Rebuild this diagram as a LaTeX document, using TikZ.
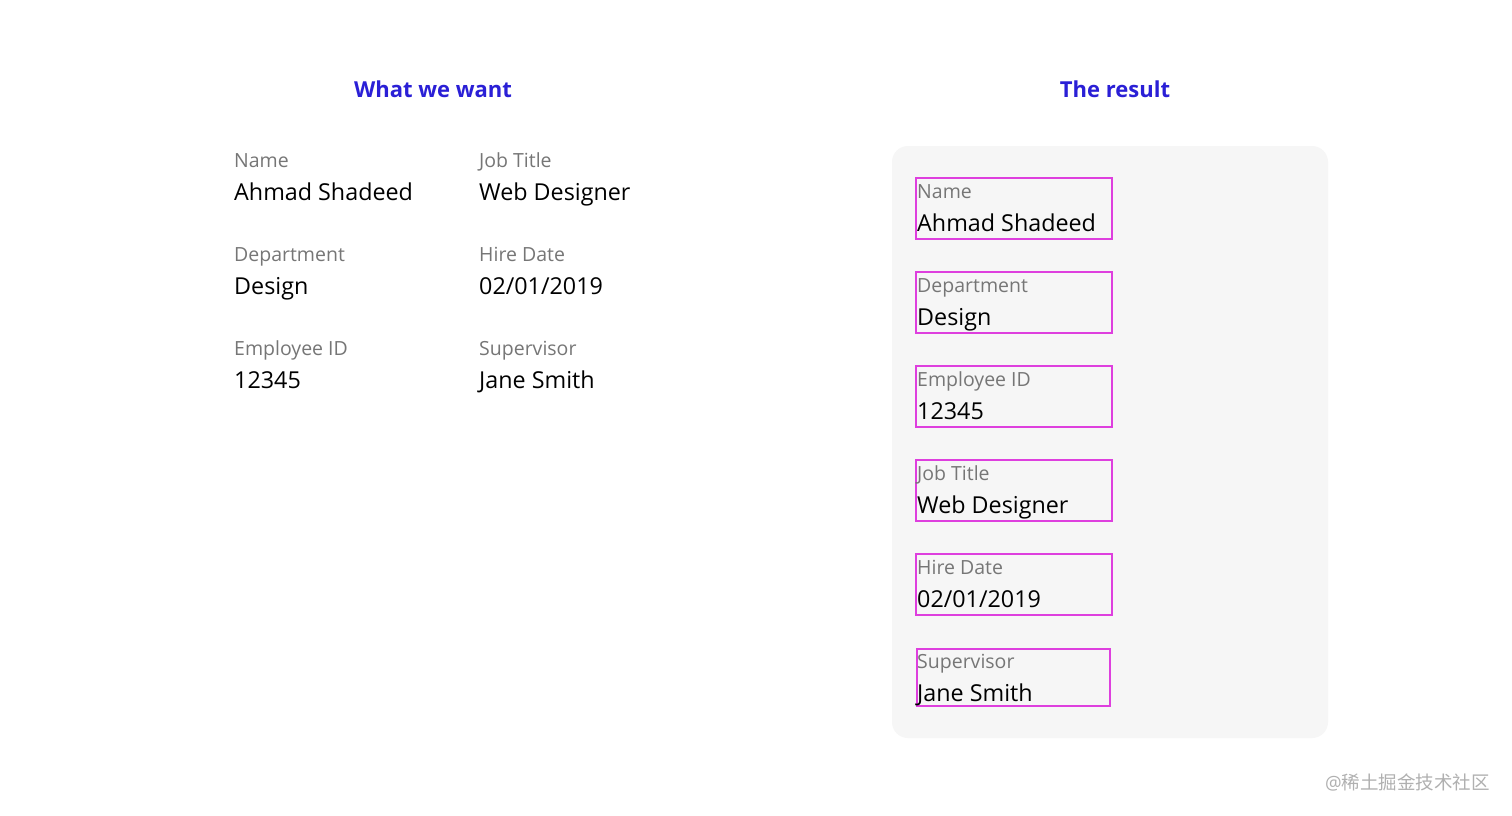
\documentclass[tikz,border=0pt]{standalone}
\usepackage{fontspec}
\setmainfont{Open Sans}
\newfontfamily\cjk{Noto Sans CJK SC}
\definecolor{headblue}{HTML}{2A1FD6}
\definecolor{lblgray}{HTML}{767676}
\definecolor{panelbg}{HTML}{F6F6F6}
\definecolor{mag}{HTML}{DE3FDE}
\definecolor{wm}{HTML}{B0B0B0}
\begin{document}
\begin{tikzpicture}[x=1pt,y=-1pt,
  head/.style={font=\fontsize{22}{26}\selectfont\bfseries, text=headblue, inner sep=0},
  lbl/.style={font=\fontsize{19.5}{23}\selectfont, text=lblgray, anchor=base west, inner sep=0},
  val/.style={font=\fontsize{23.3}{27}\selectfont, text=black, anchor=base west, inner sep=0},
  fbox/.style={draw=mag, line width=1.5pt, minimum width=196pt, minimum height=61pt, anchor=north west, inner sep=0},
  panel/.style={fill=panelbg, rounded corners=16pt}]
\useasboundingbox (0,0) rectangle (1512,815);
\fill[white] (0,0) rectangle (1512,815);
\node[head] (h1) at (433,89) {What we want};
\node[head] (h2) at (1115,89) {The result};
% left grid
\node[lbl] (l1) at (234,167) {Name};
\node[val] (v1) at (234,200) {Ahmad Shadeed};
\node[lbl] (l2) at (479,167) {Job Title};
\node[val] (v2) at (479,200) {Web Designer};
\node[lbl] (l3) at (234,261) {Department};
\node[val] (v3) at (234,294) {Design};
\node[lbl] (l4) at (479,261) {Hire Date};
\node[val] (v4) at (479,294) {02/01/2019};
\node[lbl] (l5) at (234,355) {Employee ID};
\node[val] (v5) at (234,388) {12345};
\node[lbl] (l6) at (479,355) {Supervisor};
\node[val] (v6) at (479,388) {Jane Smith};
% panel
\fill[panel] (892,146) rectangle (1328,738);
\foreach \y/\n/\a/\b in {177/1/Name/{Ahmad Shadeed}, 271/2/Department/Design, 365/3/{Employee ID}/12345, 459/4/{Job Title}/{Web Designer}, 553/5/{Hire Date}/{02\slash01\slash2019}}{
  \node[fbox] (b\n) at (915,\y) {};
  \node[lbl] (bl\n) at (917,\y+21) {\a};
  \node[val] (bv\n) at (917,\y+54) {\b};
}
\node[fbox, minimum width=193pt, minimum height=57pt] (b6) at (916,648) {};
\node[lbl] (bl6) at (917,668) {Supervisor};
\node[val] (bv6) at (917,701) {Jane Smith};
\node[font=\fontsize{18.5}{22}\selectfont, text=wm, anchor=east, inner sep=0] (wm) at (1490,782) {@{\cjk 稀土掘金技术社区}};
\end{tikzpicture}
\end{document}
